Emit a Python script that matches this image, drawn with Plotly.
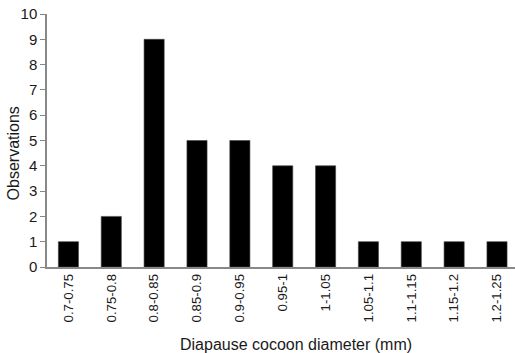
import plotly.graph_objects as go

categories = ["0.7-0.75", "0.75-0.8", "0.8-0.85", "0.85-0.9", "0.9-0.95", "0.95-1",
              "1-1.05", "1.05-1.1", "1.1-1.15", "1.15-1.2", "1.2-1.25"]
observations = [1, 2, 9, 5, 5, 4, 4, 1, 1, 1, 1]
y_ticks = list(range(0, 11))

REG = "Liberation Sans, Arial, sans-serif"

fig = go.Figure(go.Bar(x=categories, y=observations,
                       marker=dict(color="black", line=dict(width=0.6, color="#444")),
                       width=0.47))

fig.update_layout(
    width=515, height=353,
    margin=dict(l=47, r=0, t=14, b=86),
    paper_bgcolor="white", plot_bgcolor="white",
    font=dict(family=REG, color="#1a1a1a", size=14),
    showlegend=False,
    annotations=[
        dict(text="Diapause cocoon diameter (mm)", xref="paper", yref="paper",
             x=0.533, y=-0.306, xanchor="center", yanchor="middle",
             showarrow=False, font=dict(size=16)),
        dict(text="Observations", xref="paper", yref="paper", textangle=-90,
             x=-0.0726, y=0.449, xanchor="center", yanchor="middle",
             showarrow=False, font=dict(size=16)),
    ],
)
fig.update_xaxes(
    type="category", range=[-0.5, 10.42], automargin=False,
    tickangle=-90, tickfont=dict(size=13.2),
    showline=True, linecolor="#888", linewidth=1.5,
    ticks="", showgrid=False,
)
fig.update_yaxes(
    range=[0, 10], tickvals=y_ticks, automargin=False,
    showline=True, linecolor="#888", linewidth=1.5,
    ticks="outside", ticklen=5, tickcolor="#888",
    showgrid=False, zeroline=False, tickfont=dict(size=15),
)
fig.write_html("out.html", post_script="document.body.style.margin='0';",
               config={"displayModeBar": False})
